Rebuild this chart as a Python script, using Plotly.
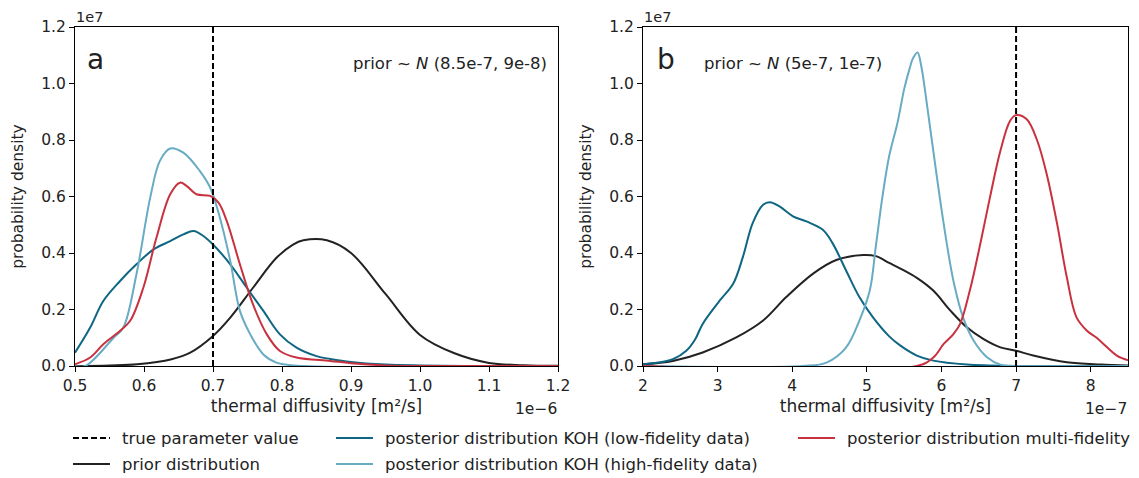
import plotly.graph_objects as go

# panel a: x in 1e-6 m²/s, density in 1e7
a_true = 0.7
a_prior_x = [0.50, 0.55, 0.59, 0.64, 0.667, 0.70, 0.725, 0.758, 0.792, 0.816, 0.831, 0.865, 0.90, 0.95, 1.00, 1.05, 1.10, 1.15, 1.20]
a_prior_y = [0.000, 0.002, 0.006, 0.024, 0.047, 0.106, 0.171, 0.277, 0.383, 0.43, 0.445, 0.445, 0.40, 0.255, 0.11, 0.045, 0.011, 0.003, 0.001]
a_low_x = [0.50, 0.522, 0.541, 0.565, 0.589, 0.614, 0.638, 0.657, 0.672, 0.686, 0.70, 0.725, 0.749, 0.773, 0.797, 0.821, 0.85, 0.87, 0.90, 0.95, 1.00, 1.10, 1.20]
a_low_y = [0.047, 0.136, 0.23, 0.30, 0.36, 0.413, 0.442, 0.466, 0.478, 0.46, 0.43, 0.36, 0.277, 0.195, 0.112, 0.065, 0.035, 0.025, 0.014, 0.005, 0.002, 0.0, 0.0]
a_high_x = [0.50, 0.515, 0.556, 0.570, 0.589, 0.609, 0.623, 0.638, 0.657, 0.681, 0.696, 0.710, 0.725, 0.739, 0.754, 0.773, 0.792, 0.83, 1.20]
a_high_y = [0.0, 0.0, 0.10, 0.136, 0.324, 0.596, 0.726, 0.77, 0.755, 0.69, 0.631, 0.525, 0.372, 0.195, 0.112, 0.041, 0.012, 0.0, 0.0]
a_multi_x = [0.50, 0.522, 0.541, 0.565, 0.580, 0.599, 0.618, 0.638, 0.652, 0.662, 0.676, 0.696, 0.708, 0.720, 0.739, 0.758, 0.778, 0.797, 0.821, 0.870, 0.90, 0.95, 1.00, 1.20]
a_multi_y = [0.006, 0.03, 0.077, 0.124, 0.16, 0.277, 0.454, 0.608, 0.649, 0.637, 0.608, 0.602, 0.578, 0.513, 0.36, 0.218, 0.112, 0.053, 0.03, 0.018, 0.01, 0.002, 0.0, 0.0]

# panel b: x in 1e-7 m²/s, density in 1e7
b_true = 7.0
b_prior_x = [2.0, 2.4, 2.8, 3.25, 3.61, 3.92, 4.28, 4.59, 4.95, 5.12, 5.3, 5.45, 5.67, 5.89, 6.12, 6.34, 6.56, 6.79, 7.0, 7.23, 7.68, 8.13, 8.5]
b_prior_y = [0.006, 0.018, 0.048, 0.101, 0.161, 0.244, 0.327, 0.375, 0.393, 0.389, 0.365, 0.345, 0.312, 0.267, 0.196, 0.137, 0.096, 0.066, 0.054, 0.037, 0.013, 0.005, 0.002]
b_low_x = [2.0, 2.2, 2.4, 2.58, 2.7, 2.80, 3.03, 3.21, 3.34, 3.47, 3.61, 3.70, 3.83, 4.01, 4.19, 4.41, 4.54, 4.72, 4.90, 5.08, 5.30, 5.45, 5.67, 5.89, 6.34, 7.0, 8.5]
b_low_y = [0.006, 0.012, 0.024, 0.054, 0.095, 0.149, 0.232, 0.292, 0.387, 0.506, 0.571, 0.58, 0.565, 0.53, 0.512, 0.482, 0.435, 0.339, 0.244, 0.173, 0.105, 0.072, 0.037, 0.019, 0.005, 0.0, 0.0]
b_high_x = [2.0, 4.14, 4.46, 4.72, 4.90, 5.04, 5.12, 5.21, 5.30, 5.41, 5.50, 5.57, 5.62, 5.68, 5.73, 5.78, 5.89, 6.03, 6.16, 6.29, 6.43, 6.61, 6.79, 7.0, 8.5]
b_high_y = [0.0, 0.0, 0.012, 0.065, 0.161, 0.268, 0.423, 0.601, 0.744, 0.86, 0.98, 1.05, 1.09, 1.11, 1.06, 0.975, 0.762, 0.503, 0.302, 0.172, 0.09, 0.031, 0.005, 0.0, 0.0]
b_multi_x = [2.0, 5.67, 5.89, 6.03, 6.16, 6.25, 6.38, 6.52, 6.65, 6.79, 6.92, 7.0, 7.14, 7.28, 7.41, 7.55, 7.68, 7.81, 7.95, 8.08, 8.22, 8.35, 8.5]
b_multi_y = [0.0, 0.0, 0.03, 0.078, 0.113, 0.149, 0.267, 0.432, 0.597, 0.762, 0.868, 0.888, 0.874, 0.80, 0.68, 0.503, 0.314, 0.172, 0.125, 0.10, 0.066, 0.037, 0.02]

legend_labels = ["true parameter value", "prior distribution",
                 "posterior distribution KOH (low-fidelity data)",
                 "posterior distribution KOH (high-fidelity data)",
                 "posterior distribution multi-fidelity"]

C_BLACK = "#222222"
C_LOW = "#0f6683"
C_HIGH = "#68abc4"
C_MULTI = "#c8323f"
FONT = "DejaVu Sans"
FS = 15.5
# the page body has an 8px margin, so the figure is shifted by (8, 8) in the window
OFF = 8
W, H = 1139 - OFF, 478 - OFF

def px(x):
    return (x - OFF) / W

def py(y):
    return 1 - (y - OFF) / H

fig = go.Figure()

def add_panel(xa, ya, prior, low, high, multi, true_val):
    for (xs, ys), col in [(prior, C_BLACK), (low, C_LOW), (high, C_HIGH), (multi, C_MULTI)]:
        fig.add_trace(go.Scatter(x=xs, y=ys, mode="lines", xaxis=xa, yaxis=ya,
                                 line=dict(color=col, width=2, shape="spline", smoothing=1.0),
                                 showlegend=False, hoverinfo="skip"))
    fig.add_trace(go.Scatter(x=[true_val, true_val], y=[0, 1.2], mode="lines", xaxis=xa, yaxis=ya,
                             line=dict(color="black", width=2, dash="6px,3px"),
                             showlegend=False, hoverinfo="skip"))

add_panel("x", "y", (a_prior_x, a_prior_y), (a_low_x, a_low_y), (a_high_x, a_high_y),
          (a_multi_x, a_multi_y), a_true)
add_panel("x2", "y2", (b_prior_x, b_prior_y), (b_low_x, b_low_y), (b_high_x, b_high_y),
          (b_multi_x, b_multi_y), b_true)

axcommon = dict(showgrid=False, zeroline=False, showline=True, mirror=True, linecolor="black",
                linewidth=1, ticks="outside", ticklen=5, tickcolor="black", automargin=False,
                tickfont=dict(family=FONT, size=FS, color=C_BLACK))
xtitle = dict(text="thermal diffusivity [m²/s]", font=dict(family=FONT, size=17, color=C_BLACK), standoff=6)
ytitle = dict(text="probability density", font=dict(family=FONT, size=15.5, color=C_BLACK), standoff=13)

fig.update_layout(
    width=W, height=H, margin=dict(l=0, r=0, t=0, b=0, autoexpand=False),
    paper_bgcolor="white", plot_bgcolor="white", showlegend=False,
    xaxis=dict(domain=[px(75), px(558)], range=[0.5, 1.2], dtick=0.1, tickformat=".1f",
               title=xtitle, anchor="y", **axcommon),
    yaxis=dict(domain=[py(366), py(27)], range=[0, 1.2], dtick=0.2, tickformat=".1f",
               title=ytitle, anchor="x", **axcommon),
    xaxis2=dict(domain=[px(643), px(1128)], range=[2, 8.5], dtick=1, tickformat="d",
                title=xtitle, anchor="y2", **axcommon),
    yaxis2=dict(domain=[py(366), py(27)], range=[0, 1.2], dtick=0.2, tickformat=".1f",
                title=ytitle, anchor="x2", **axcommon),
)

def ann(x, y, text, size=16.5, xanchor="left", yanchor="middle"):
    fig.add_annotation(x=px(x), y=py(y), xref="paper", yref="paper", text=text,
                       showarrow=False, xanchor=xanchor, yanchor=yanchor,
                       font=dict(family=FONT, size=size, color=C_BLACK))

# offset texts
ann(74, 17, "1e7", size=14.5)
ann(642, 17, "1e7", size=14.5)
ann(559, 409, "1e−6", size=FS, xanchor="right")
ann(1129, 409, "1e−7", size=FS, xanchor="right")
# panel labels and prior notes
ann(85, 60, "a", size=28)
ann(655, 60, "b", size=28)
ann(549, 64, "prior ~ <i>N</i> (8.5e-7, 9e-8)", xanchor="right")
ann(702, 64, "prior ~ <i>N</i> (5e-7, 1e-7)")

# legend (3 columns, column-major like matplotlib)
legend_items = [
    (73, 438, legend_labels[0], "black", "dash"),
    (73, 464, legend_labels[1], C_BLACK, "solid"),
    (336, 438, legend_labels[2], C_LOW, "solid"),
    (336, 464, legend_labels[3], C_HIGH, "solid"),
    (798, 438, legend_labels[4], C_MULTI, "solid"),
]
for lx, ly, lab, col, dash in legend_items:
    fig.add_shape(type="line", xref="paper", yref="paper", x0=px(lx), x1=px(lx + 37),
                  y0=py(ly), y1=py(ly),
                  line=dict(color=col, width=2, dash="6px,3px" if dash == "dash" else "solid"))
    ann(lx + 47, ly, lab)

fig.write_html("out.html")
